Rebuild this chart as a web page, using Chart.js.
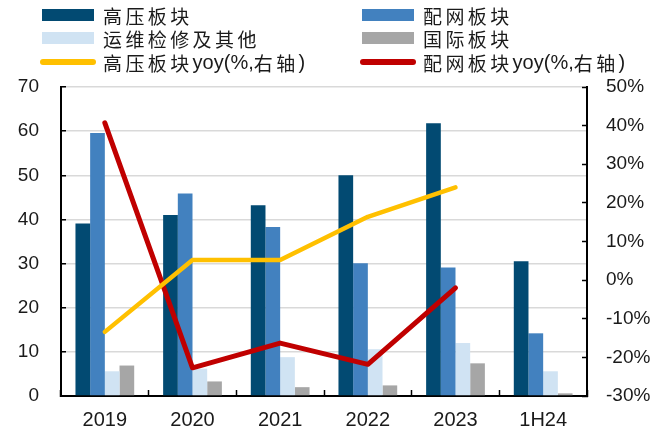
<!DOCTYPE html>
<html>
<head>
<meta charset="utf-8">
<script src="https://cdn.jsdelivr.net/npm/chart.js@4/dist/chart.umd.min.js"></script>
<style>
  html, body { margin: 0; padding: 0; background: #fff; }
  #wrap { position: relative; width: 664px; height: 430px; }
  #c { position: absolute; left: 0; top: 0; }
  .lg { position: absolute; display: flex; align-items: center; height: 24px;
        font-family: "Liberation Sans", Arial, sans-serif; font-size: 20px;
        color: #1a1a1a; white-space: nowrap; }
  .lg .sw { margin-right: 9px; flex: none; }
  .lg .cjk { font-family: "Noto Sans CJK SC", sans-serif; font-size: 19px; letter-spacing: 3.4px; }
</style>
</head>
<body>
<div id="wrap">
  <canvas id="c" width="664" height="430"></canvas>
  <div id="legend"></div>
</div>
<script>
// Categories and series (亿元 / yoy %)
const categories = ['2019', '2020', '2021', '2022', '2023', '1H24'];
const highVoltage = [39.1, 41.0, 43.2, 50.0, 61.8, 30.5];
const distribution = [59.6, 45.9, 38.3, 30.1, 29.1, 14.2];
const maintenance = [5.6, 6.2, 8.8, 10.6, 12.0, 5.6];
const international = [6.9, 3.3, 2.0, 2.4, 7.4, 0.6];
const highVoltageYoy = [-13.4, 5.2, 5.2, 16.4, 24.0, null];
const distributionYoy = [40.7, -22.7, -16.3, -21.8, -2.0, null];

const leftTicks = { min: 0, max: 70, step: 10 };
const rightTicks = { min: -30, max: 50, step: 10 };

const yFont = { family: '"Liberation Sans", Arial, sans-serif', size: 19 };
const xFont = { family: '"Liberation Sans", Arial, sans-serif', size: 20 };

const datasets = [
  { type: 'line', label: '高压板块yoy(%,右轴)', data: highVoltageYoy, yAxisID: 'y1',
    borderColor: '#FFC000', backgroundColor: '#FFC000', borderWidth: 4.5,
    pointRadius: 0, borderCapStyle: 'round', borderJoinStyle: 'round', order: 0 },
  { type: 'line', label: '配网板块yoy(%,右轴)', data: distributionYoy, yAxisID: 'y1',
    borderColor: '#C00000', backgroundColor: '#C00000', borderWidth: 5,
    pointRadius: 0, borderCapStyle: 'round', borderJoinStyle: 'round', order: 1 },
  { type: 'bar', label: '高压板块', data: highVoltage, backgroundColor: '#024A72', yAxisID: 'y', order: 2 },
  { type: 'bar', label: '配网板块', data: distribution, backgroundColor: '#4281BF', yAxisID: 'y', order: 2 },
  { type: 'bar', label: '运维检修及其他', data: maintenance, backgroundColor: '#D0E3F3', yAxisID: 'y', order: 2 },
  { type: 'bar', label: '国际板块', data: international, backgroundColor: '#A6A6A6', yAxisID: 'y', order: 2 }
];

// Fixed axis box sizes; the label padding must not push the plot edges
const fixVertical = width => s => { s.width = width; s.paddingTop = 12; s.paddingBottom = 12; };

const chart = new Chart(document.getElementById('c'), {
  data: { labels: categories, datasets: datasets },
  options: {
    responsive: false,
    animation: false,
    devicePixelRatio: 1,
    layout: { padding: { top: 87, left: 0, right: 0, bottom: 0 } },
    datasets: { bar: { categoryPercentage: 0.67, barPercentage: 1.0 } },
    plugins: { legend: { display: false }, tooltip: { enabled: false } },
    scales: {
      x: {
        afterFit: s => { s.height = 34; },
        grid: { drawOnChartArea: false, offset: true, tickLength: -6, tickColor: '#000', tickWidth: 1.5 },
        border: { color: '#000', width: 2 },
        ticks: { font: xFont, color: '#1a1a1a', padding: 18 }
      },
      y: {
        position: 'left',
        min: leftTicks.min, max: leftTicks.max,
        afterFit: fixVertical(61),
        grid: { color: '#D9D9D9', lineWidth: 1.5, tickLength: -5, tickColor: '#000', tickWidth: 1.5 },
        border: { color: '#000', width: 2 },
        ticks: { stepSize: leftTicks.step, font: yFont, color: '#1a1a1a', padding: 27 }
      },
      y1: {
        position: 'right',
        min: rightTicks.min, max: rightTicks.max,
        afterFit: fixVertical(77),
        grid: { drawOnChartArea: false, tickLength: -5, tickColor: '#000', tickWidth: 1.5 },
        border: { color: '#000', width: 2 },
        ticks: { stepSize: rightTicks.step, font: yFont, color: '#1a1a1a', padding: 24,
                 callback: v => v + '%' }
      }
    }
  }
});

// Two-column legend built from the chart's datasets
const legendOrder = [2, 3, 4, 5, 0, 1];
const colX = [42, 362];
const rowY = [3, 26, 50];
const legendEl = document.getElementById('legend');
legendOrder.forEach((di, i) => {
  const ds = chart.data.datasets[di];
  const isLine = ds.type === 'line';
  const item = document.createElement('div');
  item.className = 'lg';
  item.style.left = (colX[i % 2] - (isLine ? 2 : 0)) + 'px';
  item.style.top = rowY[Math.floor(i / 2)] + 'px';
  const sw = document.createElement('span');
  sw.className = 'sw';
  if (isLine) {
    sw.style.background = ds.borderColor;
    sw.style.width = '56px'; sw.style.height = '6px'; sw.style.borderRadius = '3px';
    sw.style.marginRight = '7px';
  } else {
    sw.style.background = ds.backgroundColor;
    sw.style.width = '52px'; sw.style.height = '12px';
  }
  item.appendChild(sw);
  // split the label into CJK and Latin runs so each gets its own face
  (ds.label.match(/[\u3000-\u9fff]+|[^\u3000-\u9fff]+/g) || []).forEach(run => {
    const s = document.createElement('span');
    if (/[\u3000-\u9fff]/.test(run)) s.className = 'cjk';
    s.textContent = run;
    item.appendChild(s);
  });
  legendEl.appendChild(item);
});
</script>
</body>
</html>
